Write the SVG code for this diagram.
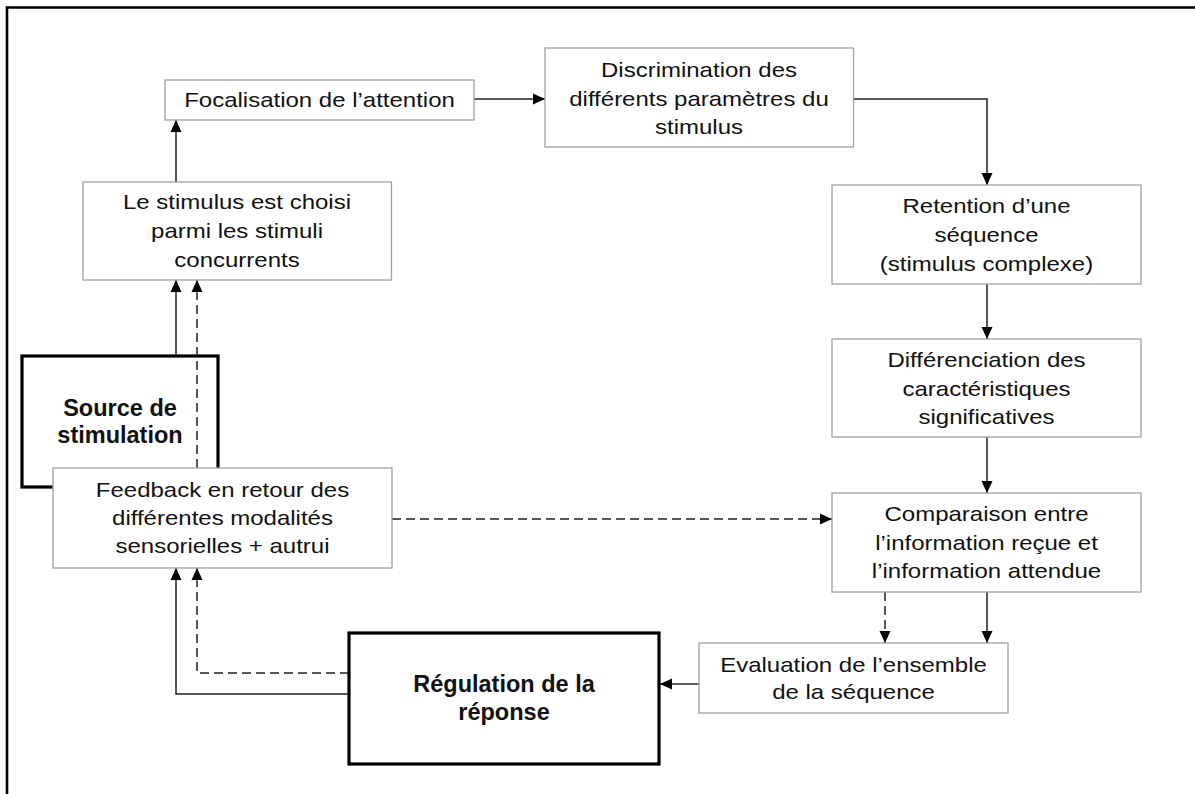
<svg xmlns="http://www.w3.org/2000/svg" width="1195" height="794" viewBox="0 0 1195 794">
  <defs>
    <marker id="arrow" viewBox="0 0 12 12" refX="12" refY="6" markerWidth="12" markerHeight="12" markerUnits="userSpaceOnUse" orient="auto">
      <path d="M0,0.5 L12,6 L0,11.5 Z" fill="#000"/>
    </marker>
    <style>
      .box { fill: #fff; stroke: #a0a0a0; stroke-width: 1.3; }
      .key { fill: #fff; stroke: #000; stroke-width: 3.2; }
      .lbl { font-family: "Liberation Sans", Arial, Helvetica, sans-serif; font-size: 20px; fill: #111; text-anchor: middle; }
      .bold { font-family: "Liberation Sans", Arial, Helvetica, sans-serif; font-size: 23.5px; font-weight: bold; fill: #111; text-anchor: middle; }
      .wire { fill: none; stroke: #222; stroke-width: 1.5; }
      .dash { stroke-dasharray: 9 5; }
    </style>
  </defs>

  <rect width="1195" height="794" fill="#fff"/>
  <!-- outer frame (top and left edges) -->
  <path d="M7,794 V7.5 H1195" fill="none" stroke="#000" stroke-width="2.6"/>

  <!-- source of stimulation (partly covered by the feedback box) -->
  <g id="source">
    <rect class="key" x="22" y="356" width="196" height="131"/>
    <text class="bold"><tspan x="120" y="416">Source de</tspan><tspan x="120" y="443">stimulation</tspan></text>
  </g>

  <g id="connectors">
    <!-- main chain -->
    <path class="wire" d="M176,182 V120" marker-end="url(#arrow)"/>
    <path class="wire" d="M474,99 H545" marker-end="url(#arrow)"/>
    <path class="wire" d="M853.5,99 H987 V185" marker-end="url(#arrow)"/>
    <path class="wire" d="M987,284 V339" marker-end="url(#arrow)"/>
    <path class="wire" d="M987,437 V493" marker-end="url(#arrow)"/>
    <path class="wire" d="M987,592 V643" marker-end="url(#arrow)"/>
    <path class="wire dash" d="M885,592 V643" marker-end="url(#arrow)"/>
    <path class="wire" d="M699,684 H660" marker-end="url(#arrow)"/>
    <!-- response regulation back to feedback -->
    <path class="wire" d="M349,694 H176 V568" marker-end="url(#arrow)"/>
    <path class="wire dash" d="M349,673 H197 V568" marker-end="url(#arrow)"/>
    <!-- feedback to comparison -->
    <path class="wire dash" d="M392,519 H832" marker-end="url(#arrow)"/>
    <!-- source and feedback to stimulus choice -->
    <path class="wire" d="M176,356 V280" marker-end="url(#arrow)"/>
    <path class="wire dash" d="M197,468 V280" marker-end="url(#arrow)"/>
  </g>

  <g id="focalisation">
    <rect class="box" x="165" y="80" width="309" height="40"/>
    <text class="lbl" transform="translate(319.5 0) scale(1.2 1)"><tspan x="0" y="107">Focalisation de l’attention</tspan></text>
  </g>

  <g id="discrimination">
    <rect class="box" x="545" y="48" width="308.5" height="99"/>
    <text class="lbl" transform="translate(699 0) scale(1.2 1)"><tspan x="0" y="77">Discrimination des</tspan><tspan x="0" y="106">différents paramètres du</tspan><tspan x="0" y="134">stimulus</tspan></text>
  </g>

  <g id="choix-stimulus">
    <rect class="box" x="83" y="182" width="308.5" height="98"/>
    <text class="lbl" transform="translate(237 0) scale(1.2 1)"><tspan x="0" y="209">Le stimulus est choisi</tspan><tspan x="0" y="238">parmi les stimuli</tspan><tspan x="0" y="267">concurrents</tspan></text>
  </g>

  <g id="retention">
    <rect class="box" x="832" y="185" width="309" height="99"/>
    <text class="lbl" transform="translate(986.5 0) scale(1.2 1)"><tspan x="0" y="213">Retention d’une</tspan><tspan x="0" y="242">séquence</tspan><tspan x="0" y="271">(stimulus complexe)</tspan></text>
  </g>

  <g id="differenciation">
    <rect class="box" x="832" y="339" width="309" height="98"/>
    <text class="lbl" transform="translate(986.5 0) scale(1.2 1)"><tspan x="0" y="367">Différenciation des</tspan><tspan x="0" y="396">caractéristiques</tspan><tspan x="0" y="424">significatives</tspan></text>
  </g>

  <g id="comparaison">
    <rect class="box" x="832" y="493" width="309" height="99"/>
    <text class="lbl" transform="translate(986.5 0) scale(1.2 1)"><tspan x="0" y="521">Comparaison entre</tspan><tspan x="0" y="550">l’information reçue et</tspan><tspan x="0" y="578">l’information attendue</tspan></text>
  </g>

  <g id="feedback">
    <rect class="box" x="53" y="468" width="339" height="100"/>
    <text class="lbl" transform="translate(222.5 0) scale(1.2 1)"><tspan x="0" y="497">Feedback en retour des</tspan><tspan x="0" y="525">différentes modalités</tspan><tspan x="0" y="553">sensorielles + autrui</tspan></text>
  </g>

  <g id="evaluation">
    <rect class="box" x="699" y="643" width="309" height="70"/>
    <text class="lbl" transform="translate(853.5 0) scale(1.2 1)"><tspan x="0" y="672">Evaluation de l’ensemble</tspan><tspan x="0" y="699">de la séquence</tspan></text>
  </g>

  <g id="regulation">
    <rect class="key" x="349" y="633" width="310" height="131"/>
    <text class="bold"><tspan x="504" y="692">Régulation de la</tspan><tspan x="504" y="720">réponse</tspan></text>
  </g>
</svg>
